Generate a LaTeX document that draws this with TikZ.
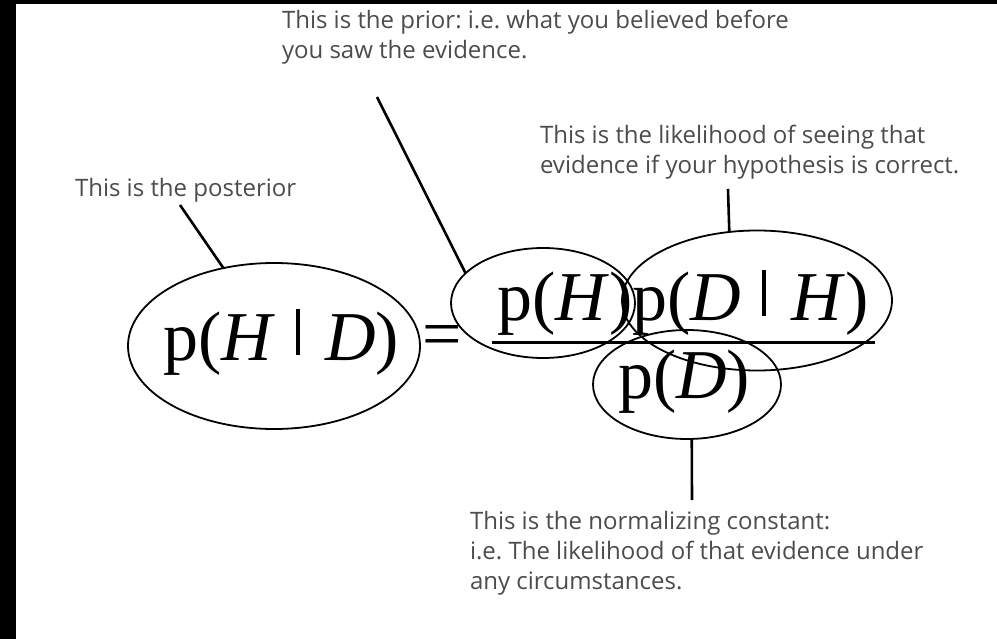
\documentclass[tikz,border=0pt]{standalone}
\usepackage{fontspec}
\setmainfont{Open Sans}
\newfontfamily\mathserif{Liberation Serif}
\usetikzlibrary{shapes.geometric}
\frenchspacing
\begin{document}
\begin{tikzpicture}[x=1pt,y=-1pt,
  oval/.style={draw=black, line width=1.8pt, ellipse, inner sep=0pt, outer sep=0pt},
  formula/.style={inner sep=0pt, outer sep=0pt, font=\mathserif\fontsize{70}{70}\selectfont},
  note/.style={inner sep=0pt, outer sep=0pt, align=left, text=black!70, font=\fontsize{24}{30}\selectfont},
  pointer/.style={draw=black, line width=2.6pt},
  fracbar/.style={draw=black, line width=3pt}
]
\useasboundingbox (0,0) rectangle (997,639);
\fill[white] (0,0) rectangle (997,639);
\fill[black] (0,0) rectangle (16,639);
\fill[black] (0,0) rectangle (997,4);

% ellipses
\node[oval, minimum width=292, minimum height=166] (post) at (274,346) {};
\node[oval, minimum width=184, minimum height=110] (prior) at (543,303) {};
\node[oval, minimum width=270, minimum height=140] (lik) at (757,300.5) {};
\node[oval, minimum width=188, minimum height=109] (norm) at (687,384.5) {};

% formula
\node[formula, anchor=base west] (lhs) at (163,360)
  {p(\textit{H}\hspace{0.3em}\rule[0.07em]{0.06em}{0.66em}\hspace{0.36em}\textit{D})};
\node[formula] (eq) at (442.5,342) {=};
\node[formula, anchor=base west] (num) at (497,321)
  {p(\textit{H})p(\textit{D}\hspace{0.3em}\rule[0.07em]{0.06em}{0.66em}\hspace{0.36em}\textit{H})};
\node[formula, anchor=base west] (den) at (618,398) {p(\textit{D})};
\coordinate (barL) at (492,343);
\coordinate (barR) at (875,343);
\draw[fracbar] (barL) -- (barR);

% labels (anchor = baseline of last line)
\node[note, anchor=base west] (postlabel) at (75,197) {This is the posterior};
\node[note, anchor=base west] (priorlabel) at (282,59)
  {This is the prior: i.e. what you believed before\\you saw the evidence.};
\node[note, anchor=base west] (liklabel) at (540,174)
  {This is the likelihood of seeing that\\evidence if your hypothesis is correct.};
\node[note, anchor=base west] (normlabel) at (470,589)
  {This is the normalizing constant:\\i.e. The likelihood of that evidence under\\any circumstances.};

% connectors
\coordinate (postTip) at (180,205);
\coordinate (priorTip) at (377,97);
\coordinate (likTip) at (728,189);
\coordinate (normTip) at (692,500);
\draw[pointer] (postTip) -- (post.123);
\draw[pointer] (priorTip) -- (prior.159);
\draw[pointer] (likTip) -- (lik.112.6);
\draw[pointer] (norm.-85) -- (normTip);
\end{tikzpicture}
\end{document}
